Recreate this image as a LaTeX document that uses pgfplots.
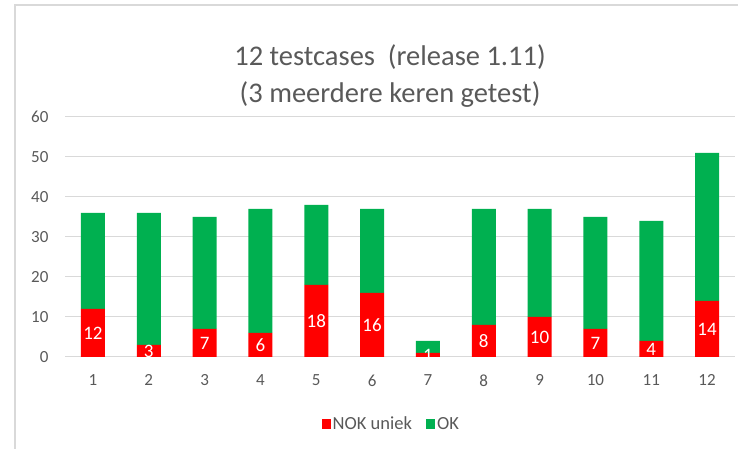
\documentclass[border=0pt]{standalone}
\usepackage{pgfplots}
\pgfplotsset{compat=1.18}
\usepackage{pgfplotstable}
\usepackage{fontspec}
\setmainfont{Carlito}
\definecolor{nokred}{RGB}{255,0,0}
\definecolor{okgreen}{RGB}{0,176,80}
\definecolor{txtgray}{RGB}{89,89,89}
\definecolor{gridgray}{RGB}{217,217,217}
\pgfplotstableread{
x red green
1 12 24
2 3 33
3 7 28
4 6 31
5 18 20
6 16 21
7 1 3
8 8 29
9 10 27
10 7 28
11 4 30
12 14 37
}\datatable
\begin{document}
\begin{tikzpicture}[x=1pt,y=1pt]
\path[use as bounding box] (0,0) rectangle (738,449);
\draw[gridgray, line width=1.5pt] (15,0) -- (15,444) -- (738,444);
\node[font=\fontsize{28.5}{37}\selectfont, text=txtgray, align=center] at (390,373) {12 testcases\ \ (release 1.11)\\(3 meerdere keren getest)};
\begin{axis}[
  at={(65pt,92pt)}, anchor=south west,
  scale only axis, width=670pt, height=240pt,
  xmin=0.5, xmax=12.5, ymin=0, ymax=60,
  ytick={0,10,...,60}, xtick={1,...,12},
  ybar stacked, bar width=24pt,
  axis line style={draw=none},
  ymajorgrids, grid style={color=gridgray, line width=1pt},
  major tick length=0pt,
  /pgf/number format/assume math mode=true,
  tick label style={font=\fontsize{17}{17}\selectfont, text=txtgray},
  yticklabel style={xshift=-13pt},
  xticklabel style={yshift=-14pt},
  legend style={at={(0.487,-0.28)}, anchor=center, draw=none, font=\fontsize{18.5}{18.5}\selectfont, text=txtgray, legend columns=2, /tikz/every even column/.append style={column sep=12pt}},
  legend image code/.code={\fill[#1] (0pt,-5pt) rectangle (9pt,5pt);},
  clip=false,
]
\addplot[fill=nokred, draw=none,
  nodes near coords, point meta=explicit,
  every node near coord/.append style={anchor=center, text=white, font=\fontsize{19}{19}\selectfont}
] table[x=x, y=red, meta=red] {\datatable};
\addlegendentry{NOK uniek}
\addplot[fill=okgreen, draw=none] table[x=x, y=green] {\datatable};
\addlegendentry{OK}
\end{axis}
\end{tikzpicture}
\end{document}
